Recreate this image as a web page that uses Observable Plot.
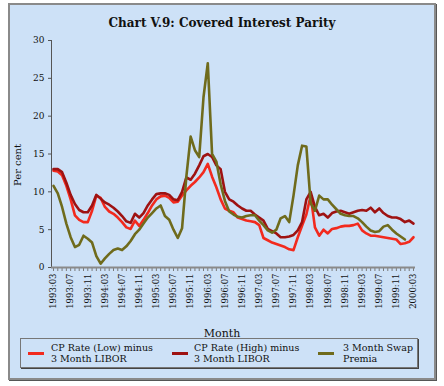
<!DOCTYPE html>
<html><head><meta charset="utf-8">
<script src="https://cdn.jsdelivr.net/npm/d3@7"></script>
<script src="https://cdn.jsdelivr.net/npm/@observablehq/plot@0.6"></script>
<style>
body{margin:0;background:#fff;font-family:"DejaVu Serif","Liberation Serif",serif;color:#111;}
.abs{position:absolute;}
#box{left:8px;top:3px;width:424px;height:373px;border:2px solid #8a8a8a;background:#cde1f7;box-shadow:1px 1px 0 #555;}
#title{left:0;top:16px;width:444px;text-align:center;font-weight:bold;font-size:12px;}
#chart{left:0;top:30px;}
#ylab{left:17px;top:165px;transform:translate(-50%,-50%) rotate(-90deg);font-size:10px;white-space:nowrap;}
#xlab{left:0;top:327px;width:444px;text-align:center;font-size:11px;}
#legend{left:20px;top:338px;width:396px;height:28px;border:1px solid #777;box-shadow:1px 1px 0 #444;}
.sw{position:absolute;height:3px;width:16px;}
.lt{position:absolute;font-size:9.5px;line-height:11px;white-space:nowrap;}
</style></head>
<body>
<div id="box" class="abs"></div>
<div id="title" class="abs">Chart V.9: Covered Interest Parity</div>
<div id="chart" class="abs"></div>
<div id="ylab" class="abs">Per cent</div>
<div id="xlab" class="abs">Month</div>
<div id="legend" class="abs"></div>
<script>
// Month tick labels (every 4 months)
const tickLabels = ["1993:03","1993:07","1993:11","1994:03","1994:07","1994:11","1995:03","1995:07","1995:11","1996:03","1996:07","1996:11","1997:03","1997:07","1997:11","1998:03","1998:07","1998:11","1999:03","1999:07","1999:11","2000:03"];
const seriesNames = ["CP Rate (Low) minus 3 Month LIBOR","CP Rate (High) minus 3 Month LIBOR","3 Month Swap Premia"];
const seriesColors = ["#f22a1e","#9e1212","#6f6b1c"];
const yTicks = [0,5,10,15,20,25,30];

const cpLow = [12.8,12.7,12.2,10.8,9.0,6.9,6.3,6.0,6.0,7.5,
9.5,9.2,8.0,7.4,7.1,6.6,6.0,5.3,5.1,6.2,
5.5,6.3,7.2,8.2,9.0,9.4,9.5,9.2,8.6,8.7,
9.5,10.2,10.8,11.3,11.9,12.6,13.7,12.0,10.6,9.0,
7.8,7.5,7.3,6.6,6.4,6.2,6.1,6.0,5.6,3.9,
3.6,3.3,3.1,2.9,2.7,2.4,2.3,4.0,5.5,7.0,
9.5,5.3,4.2,5.0,4.5,5.1,5.2,5.4,5.5,5.5,
5.6,5.8,4.9,4.5,4.2,4.2,4.1,4.0,3.9,3.8,
3.7,3.1,3.2,3.4,4.0];
const cpHigh = [13.0,13.0,12.6,11.2,9.6,8.4,7.6,7.3,7.3,8.2,
9.6,9.1,8.6,8.3,7.9,7.4,6.8,6.1,5.9,7.1,
6.6,7.2,8.2,9.0,9.7,9.8,9.8,9.6,9.0,8.9,
10.0,11.9,11.6,12.4,13.5,14.7,15.0,14.6,13.5,13.0,
10.0,9.0,8.7,8.2,7.8,7.5,7.5,7.0,6.6,6.2,
5.1,4.8,4.5,4.0,4.0,4.1,4.3,4.9,6.0,9.0,
10.0,8.0,6.9,7.1,6.6,7.2,7.4,7.5,7.3,7.1,
7.3,7.5,7.6,7.5,7.9,7.3,7.8,7.2,6.8,6.6,
6.6,6.4,6.0,6.2,5.8];
const swap = [10.8,9.8,8.0,5.8,4.0,2.7,3.0,4.2,3.8,3.3,
1.5,0.5,1.2,1.8,2.3,2.5,2.3,2.8,3.5,4.4,
5.0,5.8,6.6,7.2,7.8,8.2,6.8,6.3,5.0,3.9,
5.2,12.0,17.3,15.5,14.6,22.5,27.0,15.0,14.0,11.0,
8.8,7.4,7.0,6.7,6.6,6.8,6.9,6.9,6.2,5.6,
4.9,4.6,5.0,6.5,6.8,6.0,9.5,13.5,16.1,16.0,
8.5,7.5,9.5,9.0,9.0,8.3,7.7,7.1,6.9,6.8,
6.8,6.5,6.0,5.4,4.9,4.7,4.8,5.4,5.6,5.0,
4.5,4.1,3.7];

const allSeries = [cpLow, cpHigh, swap];
const rows = [];
allSeries.forEach((arr, s) => arr.forEach((v, i) => rows.push({i, v, s: seriesNames[s]})));
const nMonths = cpLow.length;
const labelIdx = tickLabels.map((_, k) => k * 4);

const chart = Plot.plot({
  width: 444, height: 310,
  marginLeft: 51, marginRight: 29, marginTop: 10, marginBottom: 73,
  style: {background: "transparent", fontFamily: "DejaVu Serif, serif", color: "#111"},
  x: {domain: [0, nMonths - 1], insetLeft: 2, insetRight: 2},
  y: {domain: [0, 30]},
  color: {domain: seriesNames, range: seriesColors},
  marks: [
    Plot.axisY({ticks: yTicks, tickSize: 3, tickPadding: 4, fontSize: 9, label: null, stroke: "#555"}),
    Plot.axisX({ticks: d3.range(nMonths), tickSize: 4, tickFormat: () => "", label: null, stroke: "#7a7a7a"}),
    Plot.axisX({ticks: labelIdx, tickSize: 0, tickPadding: 6, tickRotate: -90, fontSize: 8.5,
      tickFormat: d => tickLabels[d / 4], label: null}),
    Plot.frame({anchor: "left", stroke: "#555"}),
    Plot.ruleY([0], {stroke: "#8a8a8a", strokeWidth: 2}),
    Plot.line(rows, {x: "i", y: "v", z: "s", stroke: "s", strokeWidth: 2.6, strokeLinejoin: "round"})
  ]
});
document.getElementById("chart").appendChild(chart);

const leg = document.getElementById("legend");
const swX = [7, 151, 297];
const txX = [30, 173, 322];
const legLines = [["CP Rate (Low) minus","3 Month LIBOR"],["CP Rate (High) minus","3 Month LIBOR"],["3 Month Swap","Premia"]];
seriesNames.forEach((n, k) => {
  const sw = document.createElement("div");
  sw.className = "sw"; sw.style.left = swX[k] + "px"; sw.style.top = "13px"; sw.style.background = seriesColors[k];
  leg.appendChild(sw);
  const t = document.createElement("div");
  t.className = "lt"; t.style.left = txX[k] + "px"; t.style.top = "3px";
  t.innerHTML = legLines[k].join("<br>");
  leg.appendChild(t);
});
</script>
</body></html>
